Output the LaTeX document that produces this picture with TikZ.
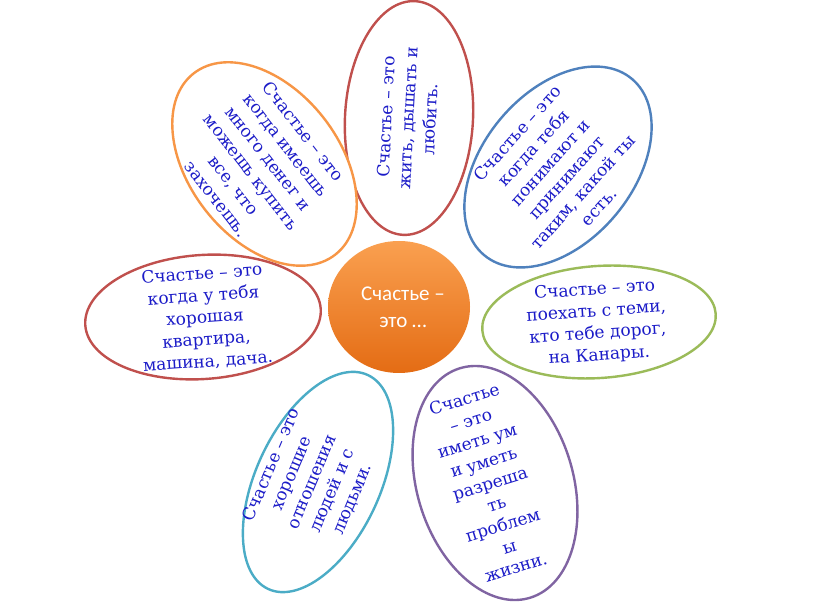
\documentclass[tikz,border=0pt]{standalone}
\usepackage{fontspec}
\setmainfont{DejaVu Serif}
\newfontfamily\centerfont{Carlito}
\usetikzlibrary{shapes.geometric}
\definecolor{ored}{RGB}{192,80,77}
\definecolor{oorange}{RGB}{247,150,70}
\definecolor{oblue}{RGB}{79,129,189}
\definecolor{ogreen}{RGB}{155,187,89}
\definecolor{oaqua}{RGB}{75,172,198}
\definecolor{opurple}{RGB}{128,100,162}
\definecolor{txtblue}{RGB}{28,28,200}
\definecolor{ctop}{RGB}{250,160,80}
\definecolor{cbot}{RGB}{228,108,20}
\tikzset{
  petal/.style={draw=#1, line width=2.4pt, ellipse, inner sep=0pt, fill=white},
  ptext/.style={text=txtblue, align=center, inner sep=0pt, font=\fontsize{17}{22}\selectfont},
  hub/.style={ellipse, inner sep=0pt, top color=ctop, bottom color=cbot, draw=none,
    text=white, align=center, font=\centerfont\fontsize{21}{27}\selectfont}
}
\begin{document}
\begin{tikzpicture}[x=1pt,y=1pt]
\useasboundingbox (0,0) rectangle (816,613);
% petals
\node[petal=ored, rotate=87, minimum width=234pt, minimum height=128pt] (p1) at (409,495) {};
\node[petal=oorange, rotate=-52, minimum width=230pt, minimum height=150pt] (p2) at (264.5,449) {};
\node[petal=oblue, rotate=50, minimum width=230pt, minimum height=150pt] (p3) at (558,446) {};
\node[petal=ored, rotate=4, minimum width=236pt, minimum height=124pt] (p4) at (203,296) {};
\node[petal=ogreen, rotate=4, minimum width=234pt, minimum height=112pt] (p5) at (599,291) {};
\node[petal=oaqua, rotate=65, minimum width=236pt, minimum height=124pt] (p6) at (318,131) {};
\node[petal=opurple, rotate=17, minimum width=156pt, minimum height=240pt] (p7) at (495,130) {};
% texts
\node[ptext, rotate=87] (t1) at (408,495) {Счастье – это\\жить, дышать и\\любить.};
\node[ptext, rotate=-52] (t2) at (260,448) {Счастье – это\\когда имеешь\\много денег и\\можешь купить\\все, что\\захочешь.};
\node[ptext, rotate=48] (t3) at (558,443) {Счастье – это\\когда тебя\\понимают и\\принимают\\таким, какой ты\\есть.};
\node[ptext, rotate=4] (t4) at (205,295) {Счастье – это\\когда у тебя\\хорошая\\квартира,\\машина, дача.};
\node[ptext, rotate=4] (t5) at (597,290) {Счастье – это\\поехать с теми,\\кто тебе дорог,\\на Канары.};
\node[ptext, rotate=67] (t6) at (312,131) {Счастье – это\\хорошие\\отношения\\людей и с\\людьми.};
\node[ptext, rotate=17] (t7) at (490,130) {Счастье\\– это\\иметь ум\\и уметь\\разреша\\ть\\проблем\\ы\\жизни.};
% hub
\node[hub, minimum width=142pt, minimum height=132pt] (hub) at (399,306) {};
\node[text=white, align=center, inner sep=0pt, font=\centerfont\fontsize{21}{27}\selectfont] (hubtext) at (403,306) {Счастье –\\это …};
\end{tikzpicture}
\end{document}
